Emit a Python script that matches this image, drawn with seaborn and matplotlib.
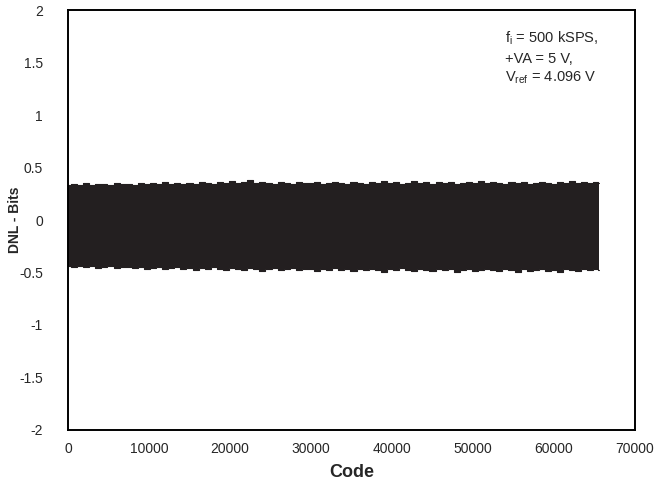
import numpy as np
import pandas as pd
import matplotlib
matplotlib.use('Agg')
import matplotlib.pyplot as plt
import seaborn as sns

# Envelope of the DNL band (code -> upper / lower DNL)
codes = [0, 750, 1500, 2250, 3000, 3750, 4500, 5250, 6000, 6750,
         7500, 8250, 9000, 9750, 10500, 11250, 12000, 12750, 13500, 14250,
         15000, 15750, 16500, 17250, 18000, 18750, 19500, 20250, 21000, 21750,
         22500, 23250, 24000, 24750, 25500, 26250, 27000, 27750, 28500, 29250,
         30000, 30750, 31500, 32250, 33000, 33750, 34500, 35250, 36000, 36750,
         37500, 38250, 39000, 39750, 40500, 41250, 42000, 42750, 43500, 44250,
         45000, 45750, 46500, 47250, 48000, 48750, 49500, 50250, 51000, 51750,
         52500, 53250, 54000, 54750, 55500, 56250, 57000, 57750, 58500, 59250,
         60000, 60750, 61500, 62250, 63000, 63750, 64500, 65250, 65535]
dnl_upper = [0.33, 0.34, 0.33, 0.35, 0.33, 0.34, 0.34, 0.33, 0.35, 0.34,
             0.34, 0.33, 0.35, 0.34, 0.35, 0.34, 0.36, 0.34, 0.35, 0.34,
             0.35, 0.34, 0.36, 0.35, 0.34, 0.36, 0.35, 0.37, 0.35, 0.36,
             0.38, 0.35, 0.36, 0.35, 0.34, 0.36, 0.35, 0.34, 0.36, 0.35,
             0.35, 0.36, 0.34, 0.35, 0.36, 0.35, 0.34, 0.36, 0.35, 0.34,
             0.36, 0.35, 0.37, 0.35, 0.36, 0.34, 0.35, 0.37, 0.35, 0.36,
             0.34, 0.36, 0.35, 0.36, 0.34, 0.35, 0.36, 0.35, 0.37, 0.35,
             0.36, 0.35, 0.34, 0.36, 0.35, 0.36, 0.34, 0.35, 0.36, 0.35,
             0.34, 0.36, 0.35, 0.37, 0.35, 0.36, 0.35, 0.36, 0.35]
dnl_lower = [-0.44, -0.45, -0.44, -0.45, -0.44, -0.46, -0.45, -0.44, -0.46, -0.45,
             -0.45, -0.46, -0.45, -0.47, -0.46, -0.45, -0.47, -0.46, -0.45, -0.47,
             -0.46, -0.48, -0.46, -0.47, -0.45, -0.47, -0.48, -0.46, -0.47, -0.48,
             -0.46, -0.47, -0.49, -0.47, -0.46, -0.48, -0.47, -0.46, -0.48, -0.47,
             -0.47, -0.49, -0.47, -0.48, -0.46, -0.48, -0.47, -0.49, -0.47, -0.48,
             -0.47, -0.48, -0.50, -0.47, -0.48, -0.46, -0.48, -0.49, -0.47, -0.48,
             -0.49, -0.47, -0.48, -0.47, -0.50, -0.48, -0.47, -0.49, -0.48, -0.47,
             -0.48, -0.49, -0.47, -0.48, -0.50, -0.47, -0.49, -0.48, -0.47, -0.49,
             -0.48, -0.50, -0.47, -0.48, -0.49, -0.47, -0.48, -0.47, -0.48]

x_ticks = [0, 10000, 20000, 30000, 40000, 50000, 60000, 70000]
y_ticks = [-2, -1.5, -1, -0.5, 0, 0.5, 1, 1.5, 2]

df = pd.DataFrame({'code': codes, 'upper': dnl_upper, 'lower': dnl_lower})

sns.set_style('white')
plt.rcParams['font.family'] = ['Liberation Sans', 'DejaVu Sans']
plt.rcParams['mathtext.fontset'] = 'custom'
plt.rcParams['mathtext.rm'] = 'Liberation Sans'
plt.rcParams['mathtext.it'] = 'Liberation Sans'

band = '#231f20'

fig = plt.figure(figsize=(6.68, 4.84), dpi=100)
ax = fig.add_axes([0.1018, 0.1116, 0.8488, 0.8677])

ax.fill_between(df['code'], df['lower'], df['upper'], color=band, lw=0, step='mid')
sns.lineplot(data=df, x='code', y='upper', ax=ax, color=band, lw=0.8,
             estimator=None, drawstyle='steps-mid')
sns.lineplot(data=df, x='code', y='lower', ax=ax, color=band, lw=0.8,
             estimator=None, drawstyle='steps-mid')

ax.set_xlim(0, 70000)
ax.set_ylim(-2, 2)
ax.set_xticks(x_ticks)
ax.set_xticklabels([str(t) for t in x_ticks])
ax.set_yticks(y_ticks)
ax.set_yticklabels(['%g' % t for t in y_ticks])
ax.tick_params(axis='x', length=0, pad=9, labelsize=10)
ax.tick_params(axis='y', length=0, pad=18, labelsize=10)

for s in ax.spines.values():
    s.set_visible(True)
    s.set_color('black')
    s.set_linewidth(1.4)

ax.set_xlabel('Code', fontsize=13, fontweight='bold')
ax.xaxis.set_label_coords(0.5, -0.082)
ax.set_ylabel('DNL - Bits', fontsize=10, fontweight='bold')
ax.yaxis.set_label_coords(-0.081, 0.5)

# Anotação das condições de teste
ax.text(53900, 1.73, r'f$_{\mathrm{i}}$ = 500 kSPS,', fontsize=10.5, va='center')
ax.text(53900, 1.53, '+VA = 5 V,', fontsize=10.5, va='center')
ax.text(53900, 1.35, r'V$_{\mathrm{ref}}$ = 4.096 V', fontsize=10.5, va='center')

fig.savefig('out.png', dpi=100)
